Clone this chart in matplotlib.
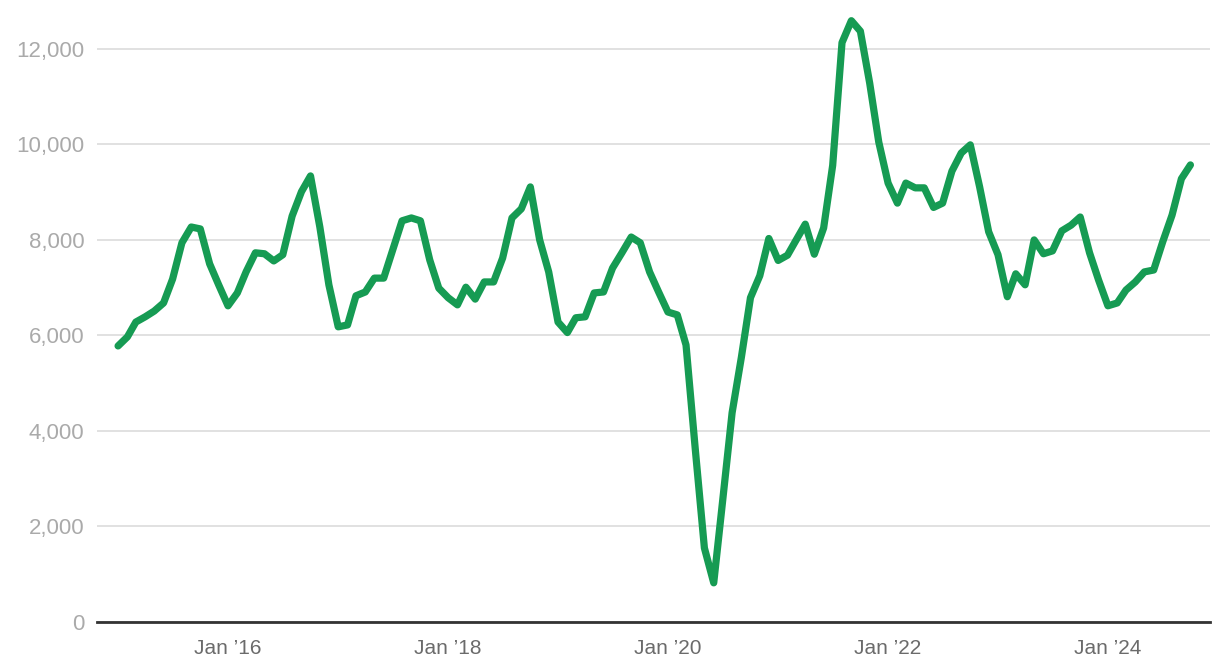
import matplotlib.pyplot as plt
import matplotlib.dates as mdates
import numpy as np
import pandas as pd

# monthly values, Jan 2015 - Oct 2024
values = [
    5780, 5970, 6280, 6390, 6510, 6680, 7180, 7940, 8270, 8230, 7500, 7060,   # 2015
    6620, 6890, 7330, 7730, 7710, 7560, 7690, 8500, 9010, 9340, 8270, 7060,   # 2016
    6180, 6220, 6830, 6910, 7200, 7200, 7790, 8400, 8460, 8400, 7580, 6990,   # 2017
    6790, 6640, 7010, 6760, 7120, 7120, 7620, 8460, 8650, 9110, 8000, 7330,   # 2018
    6280, 6060, 6370, 6390, 6890, 6910, 7410, 7730, 8060, 7940, 7330, 6910,   # 2019
    6490, 6430, 5800, 3600, 1550, 820, 2560, 4380, 5550, 6790, 7250, 8030,    # 2020
    7570, 7680, 7990, 8330, 7700, 8250, 9560, 12130, 12590, 12370, 11280, 10050,  # 2021
    9190, 8770, 9190, 9090, 9090, 8680, 8770, 9440, 9820, 9990, 9110, 8170,   # 2022
    7690, 6810, 7290, 7060, 8000, 7710, 7770, 8190, 8310, 8480, 7730, 7160,   # 2023
    6620, 6680, 6950, 7120, 7330, 7370, 7960, 8520, 9280, 9570,               # 2024
]
dates = pd.date_range('2015-01-01', periods=len(values), freq='MS')

yticks = [0, 2000, 4000, 6000, 8000, 10000, 12000]
xtick_years = [2016, 2018, 2020, 2022, 2024]
xtick_labels = ["Jan \u201916", "Jan \u201918", "Jan \u201920", "Jan \u201922", "Jan \u201924"]


def main():
    plt.rcParams['font.family'] = ['Liberation Sans', 'DejaVu Sans']

    fig = plt.figure(figsize=(12.2, 6.72), dpi=100)
    ax = fig.add_axes([97 / 1220, 50 / 672, 1113 / 1220, 608 / 672])

    ax.plot(dates, values, color='#169b53', linewidth=5.2,
            solid_joinstyle='round', solid_capstyle='round', zorder=3)

    ax.set_ylim(0, 12730)
    ax.set_xlim(pd.Timestamp('2014-10-23'), pd.Timestamp('2024-12-05'))

    ax.set_yticks(yticks)
    ax.set_yticklabels([f'{v:,}' for v in yticks], color='#aaaaaa', fontsize=16)
    ax.set_xticks([pd.Timestamp(f'{y}-01-01') for y in xtick_years])
    ax.set_xticklabels(xtick_labels, color='#6b6b6b', fontsize=15)

    ax.grid(axis='y', color='#dedede', linewidth=1.3, zorder=0)
    ax.tick_params(axis='both', length=0)
    ax.tick_params(axis='y', pad=9)
    ax.tick_params(axis='x', pad=12)

    for s in ['top', 'right', 'left']:
        ax.spines[s].set_visible(False)
    ax.spines['bottom'].set_color('#333333')
    ax.spines['bottom'].set_linewidth(2)
    ax.spines['bottom'].set_zorder(4)

    plt.savefig('out.png', dpi=100)


if __name__ == '__main__':
    main()
